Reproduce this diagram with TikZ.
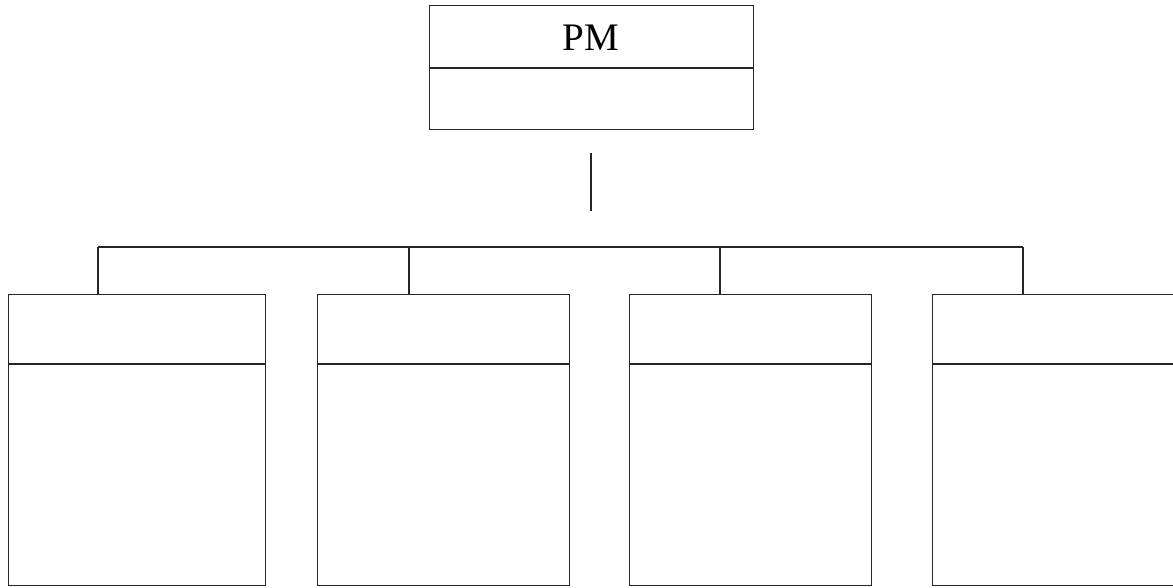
\documentclass[tikz,border=0pt]{standalone}
\usepackage{fontspec}
\setmainfont{Liberation Serif}
\begin{document}
\begin{tikzpicture}[x=1pt,y=-1pt,
  ln/.style={line width=1.2pt,black!85},
  boxnode/.style={draw,line width=1.2pt,black!85,rectangle,inner sep=0pt,anchor=north west}]
\useasboundingbox (0,0) rectangle (1173,587);
\begin{scope}
\clip (0,0) rectangle (1173,587);
% PM box
\node[boxnode,minimum width=324pt,minimum height=124pt] (pm) at (429,5) {};
\draw[ln] (429,68) -- (753,68);
\node[inner sep=0pt,anchor=base,font=\fontsize{39}{42}\selectfont] (pmlabel) at (591,50) {PM};
% connector
\coordinate (vtop) at (591,153);
\coordinate (vbot) at (591,211);
\draw[ln] (vtop) -- (vbot);
% children
\node[boxnode,minimum width=257pt,minimum height=291pt] (b1) at (8,294) {};
\node[boxnode,minimum width=252pt,minimum height=291pt] (b2) at (317,294) {};
\node[boxnode,minimum width=242pt,minimum height=291pt] (b3) at (629,294) {};
\node[boxnode,minimum width=260pt,minimum height=291pt] (b4) at (932,294) {};
\foreach \a/\b in {8/265,317/569,629/871,932/1192}{
  \draw[ln] (\a,364) -- (\b,364);
}
\coordinate (h1) at (98,247);
\coordinate (h2) at (409,247);
\coordinate (h3) at (720,247);
\coordinate (h4) at (1023,247);
\draw[ln] (h1) -- (h4);
\draw[ln] (h1) -- (h1 |- b1.north);
\draw[ln] (h2) -- (h2 |- b2.north);
\draw[ln] (h3) -- (h3 |- b3.north);
\draw[ln] (h4) -- (h4 |- b4.north);
\end{scope}
\end{tikzpicture}
\end{document}
